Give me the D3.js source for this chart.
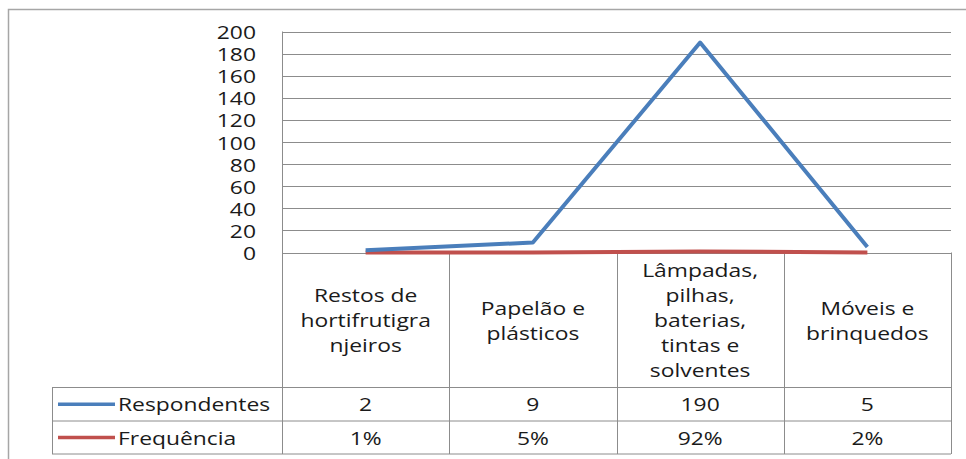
<!DOCTYPE html>
<html>
<head>
<meta charset="utf-8">
<script src="https://cdn.jsdelivr.net/npm/d3@7"></script>
<style>
  body { margin: 0; background: #fff; }
  text { font-family: "Open Sans", sans-serif; fill: #1a1a1a; }
</style>
</head>
<body>
<svg id="chart" width="966" height="459"></svg>
<script>
// data
var categories = [
    ["Restos de", "hortifrutigra", "njeiros"],
    ["Papelão e", "plásticos"],
    ["Lâmpadas,", "pilhas,", "baterias,", "tintas e", "solventes"],
    ["Móveis e", "brinquedos"]
];
var respondentes = [2, 9, 190, 5];
var frequencia = [0.01, 0.05, 0.92, 0.02];
var frequenciaLabels = ["1%", "5%", "92%", "2%"];
var yTicks = [0, 20, 40, 60, 80, 100, 120, 140, 160, 180, 200];

var svg = d3.select("#chart");
var fontSize = 18, sx = 1.27;   // text in the picture is stretched wide
var grid = "#8c8c8c";

var plotLeft = 282, plotRight = 951, plotTop = 31.5, zero = 252.5;
var row1 = 387.5, row2 = 421, tableBottom = 454, legendLeft = 52;

var x = d3.scaleBand().domain(d3.range(categories.length)).range([plotLeft, plotRight]);
var y = d3.scaleLinear().domain([0, 200]).range([zero, plotTop]);

function label(g, tx, ty, str, anchor) {
    return g.append("text")
        .attr("transform", "translate(" + tx + "," + ty + ") scale(" + sx + ",1)")
        .attr("text-anchor", anchor || "middle")
        .style("font-size", fontSize + "px")
        .text(str);
}

// outer frame
svg.append("path")
    .attr("d", "M8.5,459V9.5H966")
    .attr("fill", "none").attr("stroke", "#a6a6a6").attr("stroke-width", 1.5);

// gridlines
svg.append("g")
    .selectAll("line").data(yTicks).enter().append("line")
    .attr("x1", plotLeft).attr("x2", plotRight)
    .attr("y1", d => Math.round(y(d)) + 0.5).attr("y2", d => Math.round(y(d)) + 0.5)
    .attr("stroke", grid);

// y labels
var yl = svg.append("g");
yTicks.forEach(function (t) {
    label(yl, 256, y(t) + 7.5, t, "end");
});

// table lines
var tbl = svg.append("g").attr("stroke", grid).attr("fill", "none");
tbl.append("line").attr("x1", plotLeft + 0.5).attr("x2", plotLeft + 0.5).attr("y1", plotTop).attr("y2", tableBottom);
x.domain().forEach(function (i) {
    var xe = Math.round(x(i) + x.bandwidth()) + 0.5;
    tbl.append("line").attr("x1", xe).attr("x2", xe).attr("y1", zero).attr("y2", tableBottom);
});
[row1, row2, tableBottom].forEach(function (ry) {
    tbl.append("line").attr("x1", legendLeft).attr("x2", plotRight).attr("y1", ry).attr("y2", ry);
});
tbl.append("line").attr("x1", legendLeft + 0.5).attr("x2", legendLeft + 0.5).attr("y1", row1).attr("y2", tableBottom);

// category labels
var cl = svg.append("g");
categories.forEach(function (lines, i) {
    var cx = x(i) + x.bandwidth() / 2;
    lines.forEach(function (s, j) {
        label(cl, cx, 327 + (j - (lines.length - 1) / 2) * 25, s);
    });
});

// data rows
var series = [
    { name: "Respondentes", color: "#4a7ebb", values: respondentes, labels: respondentes, ry: row1, ry2: row2 },
    { name: "Frequência", color: "#c0504d", values: frequencia, labels: frequenciaLabels, ry: row2, ry2: tableBottom }
];
series.forEach(function (s) {
    var g = svg.append("g");
    var mid = (s.ry + s.ry2) / 2;
    g.append("line")
        .attr("x1", 58).attr("x2", 115).attr("y1", mid).attr("y2", mid)
        .attr("stroke", s.color).attr("stroke-width", 3.5);
    label(g, 118, mid + 7, s.name, "start");
    s.labels.forEach(function (v, i) {
        label(g, x(i) + x.bandwidth() / 2, mid + 7, v);
    });
});

// lines
var line = d3.line()
    .x((d, i) => x(i) + x.bandwidth() / 2)
    .y(d => y(d));
series.slice().reverse().forEach(function (s) {
    svg.append("path")
        .datum(s.values)
        .attr("d", line)
        .attr("fill", "none")
        .attr("stroke", s.color)
        .attr("stroke-width", 4)
        .attr("stroke-linejoin", "round");
});
</script>
</body>
</html>
